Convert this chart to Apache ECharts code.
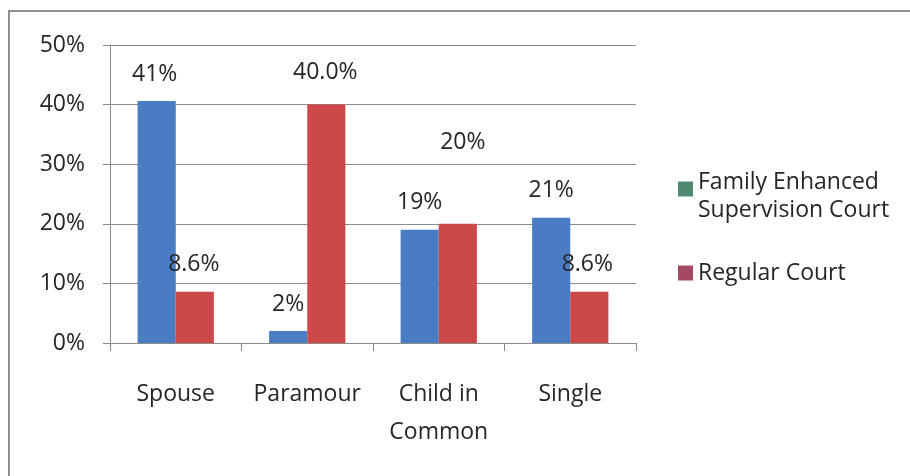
<!DOCTYPE html>
<html>
<head>
<meta charset="utf-8">
<script src="https://cdn.jsdelivr.net/npm/echarts@6/dist/echarts.min.js"></script>
<style>
  html, body { margin: 0; padding: 0; background: #fff; }
  #chart { width: 910px; height: 476px; }
</style>
</head>
<body>
<div id="chart"></div>
<script>
// Relationship categories along the x axis
const categories = ['Spouse', 'Paramour', 'Child in\nCommon', 'Single'];

// Percent of cases per court type
const fescName = 'Family Enhanced Supervision Court';
const fescValues = [40.6, 2, 19, 21];
const fescDecimals = [0, 0, 0, 0];

const regularName = 'Regular Court';
const regularValues = [8.6, 40, 20, 8.6];
const regularDecimals = [1, 1, 0, 1];

// Value axis ticks (percent)
const yMin = 0, yMax = 50, yStep = 10;

const FONT = '"Open Sans", "Liberation Sans", sans-serif';
const FS = 23;
const TEXT = '#262626';
const BLUE = '#4a7cc4';
const RED = '#cd4848';

// Nudges for data labels that sit away from their bars
const fescNudge = [[-2, 0], [0, 0], [0, 0], [0, 0]];
const regularNudge = [[-1, 0], [-1, -5], [5, -54], [-2, 0]];

function buildData(values, decimals, nudge) {
  return values.map((v, i) => ({
    value: v,
    label: {
      offset: nudge[i],
      formatter: () => v.toFixed(decimals[i]) + '%'
    }
  }));
}

const labelStyle = {
  show: true,
  position: 'top',
  distance: 14,
  fontFamily: FONT,
  fontSize: FS,
  lineHeight: 26,
  color: TEXT
};

const chart = echarts.init(document.getElementById('chart'), null, { renderer: 'canvas' });

chart.setOption({
  backgroundColor: '#ffffff',
  animation: false,
  grid: { left: 110, right: 274, top: 45, bottom: 133, containLabel: false },
  legend: {
    orient: 'vertical',
    left: 678,
    top: 154,
    padding: 0,
    itemWidth: 15,
    itemHeight: 15,
    itemGap: 35,
    icon: 'rect',
    textStyle: {
      fontFamily: FONT, fontSize: FS, lineHeight: 28, color: TEXT,
      rich: { s: { lineHeight: 14, fontSize: 10 } }
    },
    formatter: (name) => name === fescName
      ? '{s|}\nFamily Enhanced\nSupervision Court'
      : name,
    data: [
      { name: fescName, itemStyle: { color: '#4f8a70' } },
      { name: regularName, itemStyle: { color: '#a64862' } }
    ]
  },
  xAxis: {
    type: 'category',
    data: categories,
    axisLine: { lineStyle: { color: '#8a8a8a', width: 1 } },
    axisTick: { show: true, interval: 0, length: 8, lineStyle: { color: '#8a8a8a' } },
    axisLabel: {
      interval: 0,
      fontFamily: FONT, fontSize: FS, lineHeight: 38, color: TEXT, margin: 32
    },
    splitLine: { show: false }
  },
  yAxis: {
    type: 'value',
    min: yMin,
    max: yMax,
    interval: yStep,
    axisLine: { show: true, lineStyle: { color: '#8a8a8a', width: 1 } },
    axisTick: { show: true, length: 7, lineStyle: { color: '#8a8a8a' } },
    axisLabel: {
      fontFamily: FONT, fontSize: FS, color: TEXT, margin: 25,
      formatter: (v) => v + '%'
    },
    splitLine: { show: true, lineStyle: { color: '#8c8c8c', width: 1 } }
  },
  series: [
    {
      name: fescName,
      type: 'bar',
      barGap: '0%',
      barCategoryGap: '42%',
      itemStyle: { color: BLUE },
      label: labelStyle,
      data: buildData(fescValues, fescDecimals, fescNudge)
    },
    {
      name: regularName,
      type: 'bar',
      itemStyle: { color: RED },
      label: labelStyle,
      data: buildData(regularValues, regularDecimals, regularNudge)
    }
  ],
  graphic: [
    {
      type: 'polyline',
      silent: true,
      shape: { points: [[9, 476], [9, 11], [910, 11]] },
      style: { stroke: '#8f8f8f', lineWidth: 2, fill: null }
    }
  ]
});
</script>
</body>
</html>
